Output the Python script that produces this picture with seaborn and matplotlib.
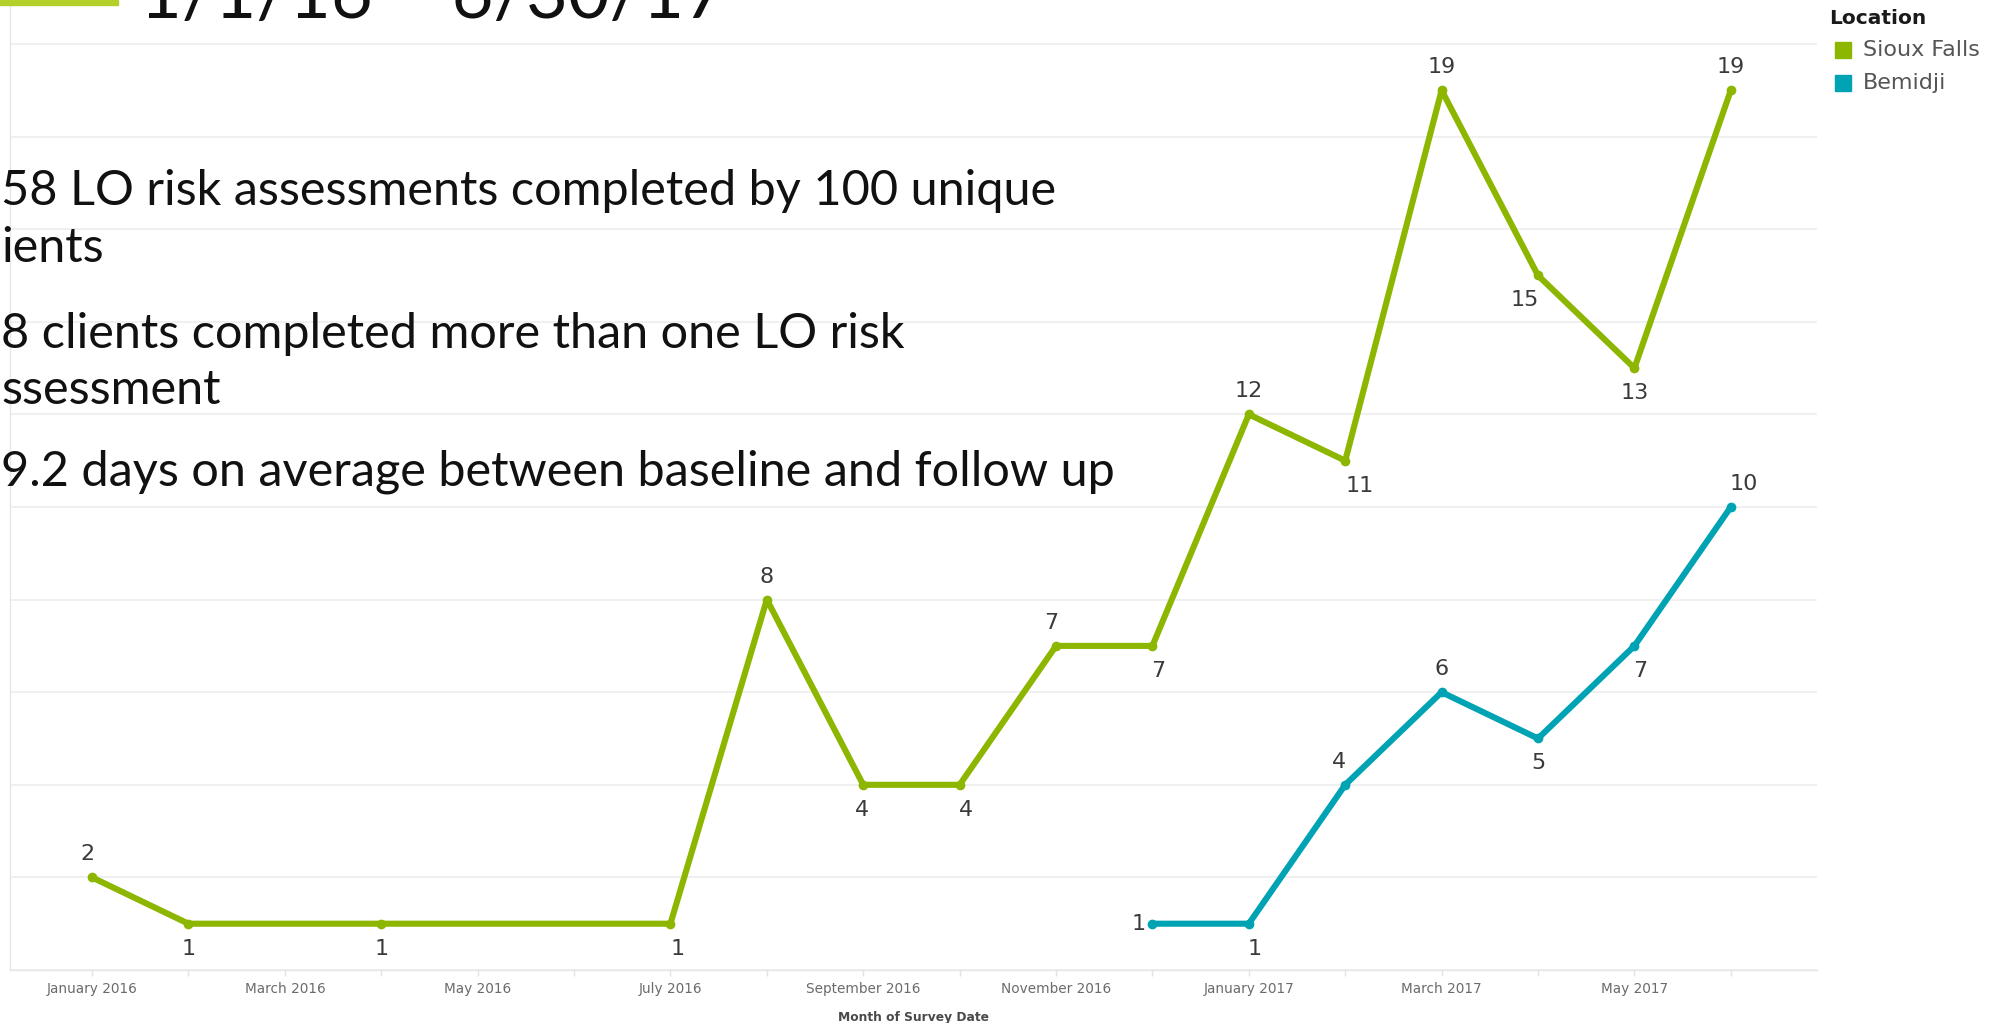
import matplotlib
matplotlib.use("Agg")
import matplotlib.pyplot as plt
import pandas as pd
import seaborn as sns
from matplotlib.patches import Rectangle

# ---- data -----------------------------------------------------------------
sioux_months = ["2016-01", "2016-02", "2016-04", "2016-07", "2016-08", "2016-09",
                "2016-10", "2016-11", "2016-12", "2017-01", "2017-02", "2017-03",
                "2017-04", "2017-05", "2017-06"]
sioux_counts = [2, 1, 1, 1, 8, 4, 4, 7, 7, 12, 11, 19, 15, 13, 19]

bemidji_months = ["2016-12", "2017-01", "2017-02", "2017-03", "2017-04",
                  "2017-05", "2017-06"]
bemidji_counts = [1, 1, 4, 6, 5, 7, 10]

locations = ["Sioux Falls", "Bemidji"]
tick_labels = ["January 2016", "March 2016", "May 2016", "July 2016",
               "September 2016", "November 2016", "January 2017",
               "March 2017", "May 2017"]

title_text = "1/1/16 \u2013 6/30/17"
summary_lines = ["58 LO risk assessments completed by 100 unique",
                 "ients",
                 "8 clients completed more than one LO risk",
                 "ssessment",
                 "9.2 days on average between baseline and follow up"]

# label offsets (pixels) for each point's value label
sioux_label_off = [(-5, 23), (0, -25), (0, -25), (7, -25), (0, 23), (-1, -25),
                   (6, -25), (-5, 23), (6, -25), (0, 23), (14, -25), (0, 23),
                   (-13, -25), (0, -25), (0, 23)]
bemidji_label_off = [(-14, 0), (6, -25), (-6, 23), (0, 23), (0, -25), (6, -25),
                     (13, 23)]

colors = {"Sioux Falls": "#8db600", "Bemidji": "#00a3b3"}


def month_index(m):
    y, mo = m.split("-")
    return (int(y) - 2016) * 12 + int(mo) - 1


df = pd.concat([
    pd.DataFrame({"Location": "Sioux Falls",
                  "month_idx": [month_index(m) for m in sioux_months],
                  "count": sioux_counts}),
    pd.DataFrame({"Location": "Bemidji",
                  "month_idx": [month_index(m) for m in bemidji_months],
                  "count": bemidji_counts}),
], ignore_index=True)

# ---- figure ---------------------------------------------------------------
sns.set_theme(style="white")
plt.rcParams["font.family"] = ["DejaVu Sans"]

W, H = 2003, 1023
fig = plt.figure(figsize=(W / 100, H / 100), dpi=100)
ax = fig.add_axes([10 / W, 53 / H, 1807 / W, 970 / H])

sns.lineplot(data=df, x="month_idx", y="count", hue="Location",
             hue_order=locations, palette=colors, marker="o", markersize=7,
             markeredgewidth=0, linewidth=4.4, estimator=None, sort=True,
             legend=False, ax=ax, zorder=3)

ax.set_xlim(-0.851, 17.894)
ax.set_ylim(0, 20.95)

ax.set_yticks(range(0, 21, 2))
ax.yaxis.grid(True, color="#ececec", linewidth=1.1)
ax.tick_params(axis="y", left=False, labelleft=False)

narrow = ["Liberation Sans Narrow", "DejaVu Sans"]
ax.set_xticks(range(18))
ax.set_xticklabels([tick_labels[i // 2] if i % 2 == 0 else "" for i in range(18)],
                   family=narrow)
ax.tick_params(axis="x", bottom=True, length=4, width=1, color="#e2e2e2",
               labelsize=9.8, labelcolor="#6b6b6b", pad=4.5)
ax.set_xlabel("Month of Survey Date", fontsize=8.8, fontweight="bold",
              color="#4a4a4a", family=narrow, labelpad=11)
ax.set_ylabel("")

for side in ["top", "right"]:
    ax.spines[side].set_visible(False)
ax.spines["left"].set_color("#e6e6e6")
ax.spines["bottom"].set_color("#e6e6e6")
ax.spines["left"].set_linewidth(1)
ax.spines["bottom"].set_linewidth(1)

# value labels
for months, counts, offs in [(sioux_months, sioux_counts, sioux_label_off),
                             (bemidji_months, bemidji_counts, bemidji_label_off)]:
    for m, c, (dx, dy) in zip(months, counts, offs):
        ax.annotate(str(c), (month_index(m), c), xytext=(dx, dy),
                    textcoords="offset pixels", ha="center", va="center",
                    fontsize=16, color="#3a3a3a", zorder=4)

# legend
fig.text(1829 / W, 1 - 18 / H, "Location", fontsize=14.5, fontweight="bold",
         color="#1a1a1a", ha="left", va="center")
for i, loc in enumerate(locations):
    yc = 50 + 33 * i
    fig.patches.append(Rectangle((1835 / W, 1 - (yc + 8) / H), 16 / W, 16 / H,
                                 transform=fig.transFigure, color=colors[loc]))
    fig.text(1863 / W, 1 - yc / H, loc, fontsize=16, color="#555555",
             ha="left", va="center")

# slide overlay: accent bar, title and summary text
fig.patches.append(Rectangle((0, 1 - 5 / H), 118 / W, 5 / H,
                             transform=fig.transFigure, color="#b3d02a"))
fig.text(140 / W, 1 - 18 / H, title_text, fontsize=52,
         family=["Lato", "DejaVu Sans"], color="#111111", ha="left",
         va="baseline")

baselines = [205, 262, 348, 404, 486]
for txt, yb in zip(summary_lines, baselines):
    fig.text(1 / W, 1 - yb / H, txt, fontsize=35, family=["Lato", "DejaVu Sans"],
             color="#111111", ha="left", va="baseline")

fig.savefig("out.png", dpi=100, facecolor="white")
